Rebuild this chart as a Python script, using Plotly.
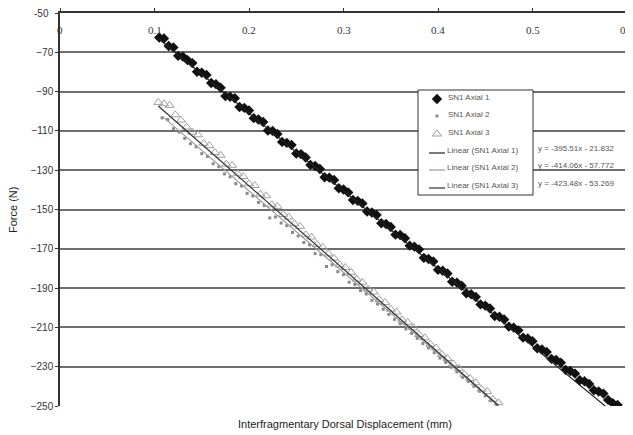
import plotly.graph_objects as go

# ---- data ----
s1_x = [0.105, 0.110, 0.115, 0.120, 0.125, 0.130, 0.135, 0.140, 0.145, 0.150,
        0.155, 0.160, 0.165, 0.170, 0.175, 0.180, 0.185, 0.190, 0.195, 0.200,
        0.205, 0.210, 0.215, 0.220, 0.225, 0.230, 0.235, 0.240, 0.245, 0.250,
        0.255, 0.260, 0.265, 0.270, 0.275, 0.280, 0.285, 0.290, 0.295, 0.300,
        0.305, 0.310, 0.315, 0.320, 0.325, 0.330, 0.335, 0.340, 0.345, 0.350,
        0.355, 0.360, 0.365, 0.370, 0.375, 0.380, 0.385, 0.390, 0.395, 0.400,
        0.405, 0.410, 0.415, 0.420, 0.425, 0.430, 0.435, 0.440, 0.445, 0.450,
        0.455, 0.460, 0.465, 0.470, 0.475, 0.480, 0.485, 0.490, 0.495, 0.500,
        0.505, 0.510, 0.515, 0.520, 0.525, 0.530, 0.535, 0.540, 0.545, 0.550,
        0.555, 0.560, 0.565, 0.570, 0.575, 0.580, 0.585, 0.590]
s1_y = [-62.5, -63.0, -66.8, -67.5, -71.8, -72.2, -74.0, -75.5, -79.9, -80.4,
        -81.5, -85.6, -86.2, -88.0, -92.3, -92.6, -93.4, -97.8, -98.3, -99.6,
        -103.5, -104.2, -105.5, -109.8, -110.0, -111.6, -115.6, -116.1, -117.2, -121.5,
        -121.8, -123.5, -127.3, -127.9, -129.4, -133.6, -133.8, -135.0, -139.2, -139.8,
        -141.3, -145.2, -145.6, -146.9, -151.0, -151.5, -152.8, -157.0, -157.4, -158.9,
        -162.8, -163.0, -164.6, -168.4, -168.9, -170.3, -174.6, -175.2, -176.5, -180.7,
        -181.2, -182.6, -186.8, -187.2, -188.8, -192.6, -193.1, -194.5, -198.3, -198.9,
        -200.4, -204.2, -204.6, -206.0, -209.6, -210.1, -211.5, -215.2, -215.6, -217.0,
        -220.6, -221.2, -222.5, -226.0, -226.6, -228.0, -231.6, -232.2, -233.5, -236.9,
        -237.4, -238.8, -242.0, -242.6, -243.7, -246.9, -248.6, -249.5]

s2_x = [0.108, 0.114, 0.120, 0.126, 0.132, 0.138, 0.144, 0.150, 0.156, 0.162,
        0.168, 0.174, 0.180, 0.186, 0.192, 0.198, 0.204, 0.210, 0.216, 0.222,
        0.228, 0.234, 0.240, 0.246, 0.252, 0.258, 0.264, 0.270, 0.276, 0.282,
        0.288, 0.294, 0.300, 0.306, 0.312, 0.318, 0.324, 0.330, 0.336, 0.342,
        0.348, 0.354, 0.360, 0.366, 0.372, 0.378, 0.384, 0.390, 0.396, 0.402,
        0.408, 0.414, 0.420, 0.426, 0.432, 0.438, 0.444, 0.450, 0.456, 0.462]
s2_y = [-103.4, -104.2, -108.9, -110.6, -113.8, -116.5, -118.1, -121.6, -123.0, -126.7,
        -128.2, -131.9, -133.4, -136.9, -138.0, -141.8, -143.1, -146.4, -148.0, -154.3,
        -153.8, -156.9, -158.2, -161.7, -163.5, -166.8, -168.0, -172.4, -173.0, -179.0,
        -178.1, -181.6, -183.2, -187.0, -188.2, -191.3, -193.0, -196.2, -198.1, -200.8,
        -203.4, -205.9, -208.1, -210.8, -213.0, -215.6, -218.2, -220.4, -222.9, -225.6,
        -227.8, -230.3, -232.6, -235.4, -237.5, -240.0, -242.5, -244.8, -247.4, -249.6]

s3_x = [0.104, 0.110, 0.116, 0.122, 0.128, 0.134, 0.140, 0.146, 0.152, 0.158,
        0.164, 0.170, 0.176, 0.182, 0.188, 0.194, 0.200, 0.206, 0.212, 0.218,
        0.224, 0.230, 0.236, 0.242, 0.248, 0.254, 0.260, 0.266, 0.272, 0.278,
        0.284, 0.290, 0.296, 0.302, 0.308, 0.314, 0.320, 0.326, 0.332, 0.338,
        0.344, 0.350, 0.356, 0.362, 0.368, 0.374, 0.380, 0.386, 0.392, 0.398,
        0.404, 0.410, 0.416, 0.422, 0.428, 0.434, 0.440, 0.446, 0.452, 0.458, 0.464]
s3_y = [-95.5, -96.2, -97.0, -101.8, -104.5, -108.0, -110.6, -112.0, -116.3, -117.5,
        -121.0, -122.4, -126.9, -127.5, -131.8, -133.2, -136.9, -137.8, -142.2, -143.0,
        -147.6, -148.4, -152.5, -153.8, -157.2, -158.6, -162.8, -164.0, -167.8, -169.2,
        -172.6, -174.8, -178.2, -179.5, -182.0, -185.4, -187.0, -190.6, -192.0, -195.8,
        -197.3, -200.7, -202.2, -206.1, -207.4, -210.2, -213.6, -215.3, -218.6, -220.5,
        -223.7, -225.8, -228.6, -230.8, -233.9, -236.0, -238.2, -241.4, -242.6, -246.5, -248.3]

series_names = ["SN1 Axial 1", "SN1 Axial 2", "SN1 Axial 3"]
fit_slopes = [-395.51, -414.06, -423.48]
fit_intercepts = [-21.832, -57.772, -53.269]
equation_labels = ["y = -395.51x - 21.832", "y = -414.06x - 57.772", "y = -423.48x - 53.269"]

y_ticks = [-250, -230, -210, -190, -170, -150, -130, -110, -90, -70, -50]
x_ticks = [0, 0.1, 0.2, 0.3, 0.4, 0.5, 0.6]

# ---- layout geometry (page pixels; the page body adds an 8px offset) ----
OFF = 8
W, H = 633 - OFF, 435 - OFF
PL, PR, PT, PB = 60, 627, 13, 406          # plot area in page pixels
L, R, T, B = PL - OFF, PR - OFF, PT - OFF, PB - OFF


def px_x(p):
    return (p - PL) / (PR - PL)


def px_y(p):
    return (PB - p) / (PB - PT)


fig = go.Figure()
xs = [s1_x, s2_x, s3_x]
ys = [s1_y, s2_y, s3_y]
marker_styles = [
    dict(symbol="diamond", size=8, color="#111111"),
    dict(symbol="square", size=3, color="#8a8a8a"),
    dict(symbol="triangle-up-open", size=8, color="#a0a0a0", line=dict(width=1)),
]
for x, y, name, m in zip(xs, ys, series_names, marker_styles):
    fig.add_trace(go.Scatter(x=x, y=y, mode="markers", name=name, marker=m,
                             showlegend=False))

line_colors = ["#222222", "#9a9a9a", "#333333"]
for x, name, a, b, c in zip(xs, series_names, fit_slopes, fit_intercepts, line_colors):
    lx = [min(x), max(x)]
    ly = [a * v + b for v in lx]
    fig.add_trace(go.Scatter(x=lx, y=ly, mode="lines", name=f"Linear ({name})",
                             line=dict(color=c, width=1.2), showlegend=False))

# ---- hand-drawn legend on an overlay axis in page-pixel units ----
leg_font = dict(family="Liberation Sans", size=8, color="#555555")
bx0, bx1, by0, by1 = 418, 533, 90, 195
fig.add_trace(go.Scatter(x=[bx0, bx1, bx1, bx0, bx0], y=[by0, by0, by1, by1, by0],
                         xaxis="x2", yaxis="y2", mode="lines", fill="toself",
                         fillcolor="white", line=dict(color="#333333", width=1),
                         showlegend=False, hoverinfo="skip"))
sym_rows = [99, 116, 134]
for m, name, ry in zip(marker_styles, series_names, sym_rows):
    fig.add_trace(go.Scatter(x=[437], y=[ry], xaxis="x2", yaxis="y2", mode="markers",
                             marker=m, showlegend=False, cliponaxis=False, hoverinfo="skip"))
    fig.add_annotation(text=name, xref="x2", yref="y2", x=446, y=ry - 2, xanchor="left",
                       yanchor="middle", showarrow=False, font=leg_font)
line_rows = [150, 167, 185]
for name, c, ry, eq in zip(series_names, line_colors, line_rows, equation_labels):
    fig.add_trace(go.Scatter(x=[429, 445], y=[ry + 3, ry + 3], xaxis="x2", yaxis="y2",
                             mode="lines", line=dict(color=c, width=1.2),
                             showlegend=False, hoverinfo="skip"))
    fig.add_annotation(text=f"Linear ({name})", xref="x2", yref="y2", x=445, y=ry,
                       xanchor="left", yanchor="middle", showarrow=False, font=leg_font)
    fig.add_annotation(text=eq, xref="x2", yref="y2", x=536, y=ry - 2,
                       xanchor="left", yanchor="middle", showarrow=False, font=leg_font)

# x tick labels (drawn just under the top axis line)
for v in x_ticks:
    fig.add_annotation(text="%g" % v, xref="x", yref="paper", x=v, y=px_y(30),
                       xanchor="center", yanchor="middle", showarrow=False,
                       font=dict(family="Liberation Serif", size=11, color="#333333"))

# top y tick label (the axis hides it at the very edge of the figure)
fig.add_annotation(text="%g" % y_ticks[-1], xref="paper", yref="y", x=px_x(51),
                   y=y_ticks[-1], xanchor="right", yanchor="middle", showarrow=False,
                   font=dict(family="Liberation Sans", size=10, color="#333333"))

fig.add_annotation(text="Interfragmentary Dorsal Displacement (mm)", xref="paper",
                   yref="paper", x=px_x(345), y=px_y(424), xanchor="center",
                   yanchor="middle", showarrow=False,
                   font=dict(family="Liberation Sans", size=11, color="#222222"))
fig.add_annotation(text="Force (N)", xref="paper", yref="paper", x=px_x(13), y=px_y(210),
                   textangle=-90, xanchor="center", yanchor="middle", showarrow=False,
                   font=dict(family="Liberation Sans", size=11, color="#222222"))

fig.update_layout(
    width=W, height=H,
    margin=dict(l=L, r=W - R, t=T, b=H - B),
    paper_bgcolor="white", plot_bgcolor="white",
    showlegend=False,
    xaxis=dict(range=[0, 0.6], side="top", tickvals=x_ticks, showticklabels=False,
               ticks="outside", ticklen=3, tickcolor="#333333", showgrid=False,
               zeroline=False, showline=True, linecolor="#333333", linewidth=1.5,
               automargin=False),
    yaxis=dict(range=[-250, -50], tickvals=y_ticks, ticks="outside", ticklen=3,
               tickcolor="#333333", showgrid=True, gridcolor="#6e6e6e", gridwidth=2,
               zeroline=False, showline=True, linecolor="#333333", linewidth=1.5,
               mirror=True, automargin=False,
               tickfont=dict(family="Liberation Sans", size=10, color="#333333")),
    xaxis2=dict(overlaying="x", range=[PL, PR], visible=False, fixedrange=True),
    yaxis2=dict(overlaying="y", range=[PB, PT], visible=False, fixedrange=True),
)

fig.write_html("out.html")
